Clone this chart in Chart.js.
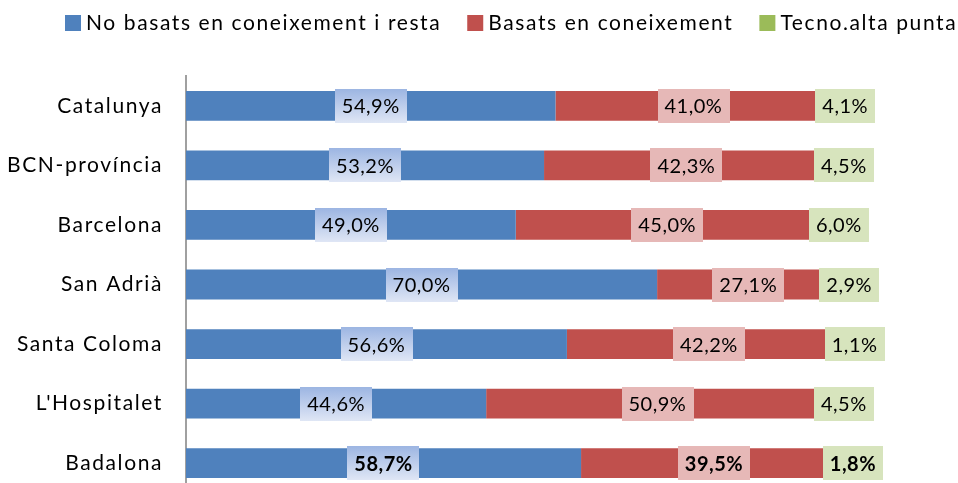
<!DOCTYPE html>
<html>
<head>
<meta charset="utf-8">
<script src="https://cdn.jsdelivr.net/npm/chart.js@4/dist/chart.umd.min.js"></script>
<style>
  html, body { margin: 0; padding: 0; background: #fff; overflow: hidden; }
</style>
</head>
<body>
<canvas id="c" width="958" height="493"></canvas>
<script>
var categories = ['Catalunya', 'BCN-província', 'Barcelona', 'San Adrià', 'Santa Coloma', "L'Hospitalet", 'Badalona'];
var noBasats = [54.9, 53.2, 49.0, 70.0, 56.6, 44.6, 58.7];
var basats   = [41.0, 42.3, 45.0, 27.1, 42.2, 50.9, 39.5];
var tecno    = [4.1, 4.5, 6.0, 2.9, 1.1, 4.5, 1.8];
var seriesNames = ['No basats en coneixement i resta', 'Basats en coneixement', 'Tecno.alta punta'];

var FONT = 'Lato, "Liberation Sans", sans-serif';
var boldRow = 6; // Badalona en negreta

// espaiat de lletra per a tot el text del canvas (s'acosta a Calibri)
var spacingPlugin = {
    id: 'spacing',
    beforeDraw: function(chart) { chart.ctx.letterSpacing = '1.6px'; }
};

// etiquetes de dades amb caixa de fons
var labelPlugin = {
    id: 'barLabels',
    afterDatasetsDraw: function(chart) {
        var ctx = chart.ctx;
        ctx.save();
        ctx.letterSpacing = '0.5px';
        ctx.textAlign = 'center';
        ctx.textBaseline = 'middle';
        chart.data.datasets.forEach(function(ds, i) {
            var meta = chart.getDatasetMeta(i);
            meta.data.forEach(function(bar, j) {
                var p = bar.getProps(['x', 'base', 'y'], true);
                var cx = (p.x + p.base) / 2, cy = p.y;
                var txt = ds.data[j].toFixed(1).replace('.', ',') + '%';
                ctx.font = (j === boldRow ? 'bold ' : '') + '20px ' + FONT;
                var w = ctx.measureText(txt).width + 14;
                var h = 34;
                var x0 = Math.round(cx - w / 2), y0 = Math.round(cy - h / 2);
                if (i === 0) {
                    var g = ctx.createLinearGradient(0, y0, 0, y0 + h);
                    g.addColorStop(0, '#9cb5e2');
                    g.addColorStop(1, '#dfe6f5');
                    ctx.fillStyle = g;
                } else {
                    ctx.fillStyle = ds.labelBg;
                }
                ctx.fillRect(x0, y0, Math.round(w), h);
                ctx.fillStyle = '#000';
                ctx.fillText(txt, cx, cy + 1);
            });
        });
        ctx.restore();
    }
};

// llegenda dibuixada a mà
var legendPlugin = {
    id: 'topLegend',
    afterDraw: function(chart) {
        var ctx = chart.ctx;
        ctx.save();
        ctx.font = '21px ' + FONT;
        ctx.textBaseline = 'middle';
        ctx.textAlign = 'left';
        var x = 65, y = 23;
        chart.data.datasets.forEach(function(ds) {
            ctx.fillStyle = ds.backgroundColor;
            ctx.fillRect(x, y - 8, 16, 16);
            ctx.fillStyle = '#000';
            ctx.fillText(ds.label, x + 21, y);
            x += 21 + ctx.measureText(ds.label).width + 26;
        });
        ctx.restore();
    }
};

new Chart(document.getElementById('c'), {
    type: 'bar',
    data: {
        labels: categories,
        datasets: [
            { label: seriesNames[0], data: noBasats, backgroundColor: '#4f81bd', labelBg: '#c5d5ee' },
            { label: seriesNames[1], data: basats, backgroundColor: '#c0504d', labelBg: '#e6b8b7' },
            { label: seriesNames[2], data: tecno, backgroundColor: '#9bbb59', labelBg: '#d7e4bd' }
        ]
    },
    options: {
        indexAxis: 'y',
        responsive: false,
        animation: false,
        barPercentage: 0.5,
        categoryPercentage: 1,
        layout: { padding: { top: 76, right: 99, bottom: 0, left: 0 } },
        plugins: { legend: { display: false }, tooltip: { enabled: false } },
        scales: {
            x: { stacked: true, min: 0, max: 100, display: false },
            y: {
                stacked: true,
                grid: { display: false },
                border: { display: true, color: '#a0a0a0', width: 2 },
                ticks: { color: '#000', font: { family: FONT, size: 21 }, padding: 15 },
                afterFit: function(s) { s.width = 186; s.paddingTop = 0; s.paddingBottom = 0; }
            }
        }
    },
    plugins: [spacingPlugin, labelPlugin, legendPlugin]
});
</script>
</body>
</html>
